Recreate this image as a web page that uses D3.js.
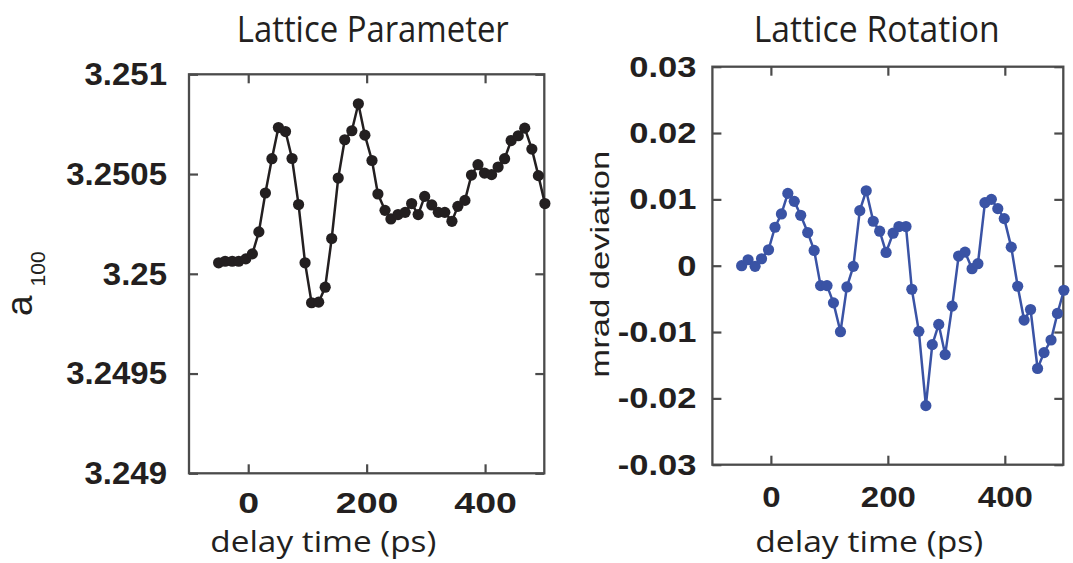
<!DOCTYPE html>
<html>
<head>
<meta charset="utf-8">
<script src="https://cdn.jsdelivr.net/npm/d3@7"></script>
<style>
  body { margin: 0; background: #fff; }
  svg { display: block; }
</style>
</head>
<body>
<svg id="chart" width="1073" height="563"></svg>
<script>
// Pump–probe delay of each measurement (ps)
const delays = [-50, -39, -27, -16, -4, 7, 18, 29, 40, 51, 63, 74, 85, 96, 107, 119, 130, 141, 152, 163,
  175, 186, 197, 209, 219, 231, 241, 253, 265, 276, 287, 298, 310, 321, 332, 344, 354, 366, 377, 388,
  399, 411, 422, 433, 444, 456, 467, 479, 490, 501];

// Lattice parameter a_100 at each delay
const latticeA = [3.250055, 3.250063, 3.250063, 3.250063, 3.250075, 3.250100, 3.250210, 3.250405, 3.250577, 3.250733,
  3.250713, 3.250578, 3.250347, 3.250055, 3.249855, 3.249858, 3.249933, 3.250177, 3.250480, 3.250672,
  3.250717, 3.250852, 3.250695, 3.250568, 3.250400, 3.250318, 3.250275, 3.250297, 3.250308, 3.250352,
  3.250297, 3.250388, 3.250345, 3.250308, 3.250308, 3.250263, 3.250338, 3.250368, 3.250495, 3.250547,
  3.250505, 3.250497, 3.250535, 3.250577, 3.250668, 3.250692, 3.250730, 3.250625, 3.250492, 3.250352];

// Lattice rotation (mrad deviation) at each delay
const rotation = [0, 0.0009, -0.0001, 0.00105, 0.0024, 0.0058, 0.0078, 0.0109, 0.0097, 0.0076,
  0.0050, 0.0023, -0.0030, -0.0030, -0.0056, -0.00995, -0.0032, -0.0001, 0.0083, 0.0113,
  0.0067, 0.0052, 0.0020, 0.0049, 0.0059, 0.0059, -0.00355, -0.0099, -0.0211, -0.0119,
  -0.00885, -0.0134, -0.0061, 0.00145, 0.00205, -0.00045, 0.0003, 0.0095, 0.0100, 0.0086,
  0.0071, 0.0028, -0.0031, -0.0082, -0.0066, -0.0155, -0.0131, -0.0112, -0.0072, -0.0037];

const delayDomain = [-100, 500];
const delayTicks = [0, 200, 400];
const latticeDomain = [3.249, 3.251];
const latticeTicks = [3.249, 3.2495, 3.25, 3.2505, 3.251];
const latticeTickLabels = ["3.249", "3.2495", "3.25", "3.2505", "3.251"];
const rotationDomain = [-0.03, 0.03];
const rotationTicks = [-0.03, -0.02, -0.01, 0, 0.01, 0.02, 0.03];
const rotationTickLabels = ["-0.03", "-0.02", "-0.01", "0", "0.01", "0.02", "0.03"];

const svg = d3.select("#chart");
const AXIS = "#4b4b4b";
const INK = "#231f20";
const TITLE_FONT = "'Open Sans', 'Noto Sans', sans-serif";
const LABEL_FONT = "'Liberation Sans', Arial, sans-serif";

// Widen text horizontally by a factor, keeping its anchor
function stretch(sel, factor) {
  sel.each(function () {
    const w = this.getComputedTextLength();
    d3.select(this).attr("textLength", w * factor).attr("lengthAdjust", "spacingAndGlyphs");
  });
}

function drawPanel(p) {
  const x = d3.scaleLinear().domain(delayDomain).range([p.left, p.right]);
  const y = d3.scaleLinear().domain(p.yDomain).range([p.bottom, p.top]);
  const g = svg.append("g");
  const tick = 9;

  const labelMap = new Map(p.yTicks.map((v, i) => [v, p.yTickLabels[i]]));

  const bottomAxis = g.append("g").attr("transform", `translate(0,${p.bottom})`)
    .call(d3.axisBottom(x).tickValues(delayTicks).tickSizeInner(-tick).tickSizeOuter(0)
      .tickPadding(p.xPad).tickFormat(d3.format("d")));
  const topAxis = g.append("g").attr("transform", `translate(0,${p.top})`)
    .call(d3.axisTop(x).tickValues(delayTicks).tickSizeInner(-tick).tickSizeOuter(0).tickFormat(""));
  const leftAxis = g.append("g").attr("transform", `translate(${p.left},0)`)
    .call(d3.axisLeft(y).tickValues(p.yTicks).tickSizeInner(-tick).tickSizeOuter(0)
      .tickPadding(p.yPad).tickFormat(v => labelMap.get(v)));
  const rightAxis = g.append("g").attr("transform", `translate(${p.right},0)`)
    .call(d3.axisRight(y).tickValues(p.yTicks).tickSizeInner(-tick).tickSizeOuter(0).tickFormat(""));

  [bottomAxis, topAxis, leftAxis, rightAxis].forEach(a => {
    a.select(".domain").remove();
    a.selectAll(".tick line").attr("stroke", AXIS).attr("stroke-width", 2.2);
  });

  bottomAxis.selectAll(".tick text")
    .attr("fill", INK).attr("font-family", LABEL_FONT).attr("font-weight", "bold")
    .attr("font-size", p.xTickSize).call(stretch, p.xStretch);
  leftAxis.selectAll(".tick text")
    .attr("fill", INK).attr("font-family", LABEL_FONT).attr("font-weight", "bold")
    .attr("font-size", p.yTickSize).call(stretch, p.yStretch);

  // axes box
  g.append("rect")
    .attr("x", p.left).attr("y", p.top)
    .attr("width", p.right - p.left).attr("height", p.bottom - p.top)
    .attr("fill", "none").attr("stroke", AXIS).attr("stroke-width", 2.3);

  // data trace
  const line = d3.line().x((d, i) => x(delays[i])).y(d => y(d));
  g.append("path").datum(p.values)
    .attr("d", line).attr("fill", "none")
    .attr("stroke", p.color).attr("stroke-width", 2.5).attr("stroke-linejoin", "round");
  g.selectAll("circle.pt").data(p.values).join("circle")
    .attr("class", "pt")
    .attr("cx", (d, i) => x(delays[i])).attr("cy", d => y(d))
    .attr("r", 5.6).attr("fill", p.color);

  // title
  g.append("text")
    .attr("x", p.titleX).attr("y", 41.7).attr("text-anchor", "middle")
    .attr("font-family", TITLE_FONT).attr("font-size", 36).attr("fill", INK)
    .attr("textLength", p.titleLen).attr("lengthAdjust", "spacingAndGlyphs")
    .text(p.title);

  // x axis label
  g.append("text")
    .attr("x", p.xLabelX).attr("y", p.xLabelY).attr("text-anchor", "middle")
    .attr("font-family", TITLE_FONT).attr("font-size", 30).attr("fill", INK)
    .attr("textLength", p.xLabelLen).attr("lengthAdjust", "spacingAndGlyphs")
    .text("delay time (ps)");

  return g;
}

drawPanel({
  left: 189, right: 544.3, top: 74.3, bottom: 473.3,
  yDomain: latticeDomain, yTicks: latticeTicks, yTickLabels: latticeTickLabels,
  values: latticeA, color: "#231f20",
  xPad: 18, yPad: 22, xTickSize: 30, yTickSize: 32, xStretch: 1.25, yStretch: 1.03,
  title: "Lattice Parameter", titleX: 372.8, titleLen: 272,
  xLabelX: 323.3, xLabelY: 552, xLabelLen: 226
});

drawPanel({
  left: 712.4, right: 1063.3, top: 66.7, bottom: 464.7,
  yDomain: rotationDomain, yTicks: rotationTicks, yTickLabels: rotationTickLabels,
  values: rotation, color: "#3a53a5",
  xPad: 21, yPad: 16, xTickSize: 30, yTickSize: 30, xStretch: 1.1, yStretch: 1.15,
  title: "Lattice Rotation", titleX: 876.7, titleLen: 246,
  xLabelX: 869.2, xLabelY: 552, xLabelLen: 228
});

// y axis label: a with subscript 100
const aLabel = svg.append("text")
  .attr("transform", "translate(31.7,316) rotate(-90)")
  .attr("font-family", LABEL_FONT).attr("fill", INK).attr("font-size", 37);
aLabel.append("tspan").text("a");
aLabel.append("tspan").attr("dx", 9).attr("dy", 13).attr("font-size", 21).text("100");

// y axis label: mrad deviation
svg.append("text")
  .attr("transform", "translate(609.3,264.2) rotate(-90)")
  .attr("text-anchor", "middle")
  .attr("font-family", LABEL_FONT).attr("font-size", 25).attr("fill", INK)
  .attr("textLength", 227).attr("lengthAdjust", "spacingAndGlyphs")
  .text("mrad deviation");
</script>
</body>
</html>
